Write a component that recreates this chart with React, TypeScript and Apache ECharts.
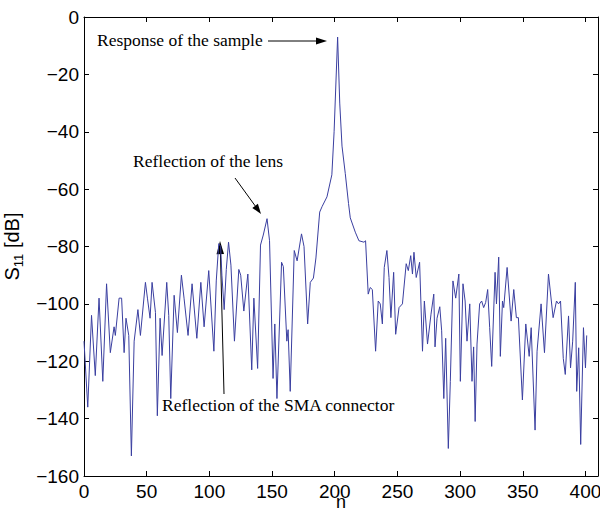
import React, { useEffect, useRef } from "react";
import * as echarts from "echarts";

// S11 trace: [n, dB]
const s11Trace: [number, number][] = [
  [0, -113], [3, -136], [6, -104], [9, -125], [12, -98], [15, -127], [18, -93], [21, -117], [24, -108], [25, -111],
  [28, -98], [30, -98], [32, -117], [33.5, -105], [35.7, -111], [37.8, -153], [40, -113], [43, -102], [45, -111], [49, -92.5],
  [50.6, -98], [52.7, -105], [54.3, -92.5], [57, -103], [58.5, -139], [60.7, -105], [62.3, -118], [66, -92.5], [67.6, -104], [69.2, -133],
  [71.9, -97], [74.5, -110], [77.7, -90], [79.8, -98], [83, -111], [86.2, -93], [90, -112], [93.2, -92.5], [95.8, -108], [99.5, -88.4],
  [103.6, -116.5], [105.5, -92], [107.5, -79], [109, -80], [110, -90], [111.8, -102], [113.5, -88], [115.3, -78.5], [117.2, -86.5], [120, -113],
  [123.5, -88], [125, -90], [127.5, -102.5], [130.7, -89.6], [133.8, -123], [135.5, -98], [138.5, -122.5], [140.8, -79.5], [143, -76], [146, -70.3],
  [148, -78], [150.8, -126], [152.2, -107], [153.9, -133], [157.6, -85.5], [159, -87], [161.8, -113], [162.8, -109], [164.5, -130.5], [167.7, -81.4],
  [170, -85], [173.5, -75.6], [175.5, -80], [178.4, -107], [180.5, -92.5], [183, -91], [185, -84], [188, -68], [190, -66], [193.8, -62.7],
  [197.7, -55], [199.5, -40], [202.3, -7], [204, -30], [205.8, -45], [208.4, -54.5], [211, -65], [212.4, -70], [216.4, -75], [219.3, -78],
  [223.3, -78.5], [224.6, -78], [226.7, -96.6], [228.3, -94.3], [230, -95], [232.6, -116.5], [234.7, -99], [236.3, -100], [238, -107], [239.5, -87.3],
  [241.6, -81.4], [243.3, -90.8], [244.8, -104.8], [247, -89], [248.6, -110.6], [251.3, -101.3], [254, -100], [257, -86], [258.7, -88.4], [260.6, -83.2],
  [262, -89.6], [263.2, -82], [265, -90.8], [267.7, -85.5], [270, -116.5], [271.5, -99], [274, -114], [276.8, -103.6], [279, -96.6], [280, -115],
  [281.6, -105], [283.8, -101], [285.3, -109.4], [287, -133], [288.5, -112], [290.6, -150.4], [292.2, -127], [294.3, -92], [296.5, -98], [299, -89.6],
  [300.2, -127], [302.3, -93], [304, -99], [305.5, -113], [307.7, -100], [309.5, -127], [310.8, -115], [312, -141], [313.5, -114], [315.6, -100],
  [317.2, -99], [318.8, -101.3], [320.4, -99.5], [322, -95], [323.6, -108.3], [325.2, -121.8], [327.9, -89], [329, -100], [330.8, -83.7], [332.1, -118.3],
  [333.8, -99], [334.8, -101.3], [337.5, -87.3], [340.7, -106], [342.8, -95], [344.9, -104.8], [346.5, -104.8], [349.7, -133.5], [352.4, -107], [355.1, -118.3],
  [356.7, -108.3], [359.8, -144], [361.4, -116.5], [364.6, -100], [367.3, -117], [370.5, -89.6], [374.2, -104.8], [376.9, -99], [378.5, -100], [380.1, -99],
  [382.3, -119], [383.9, -124.6], [386.5, -104.2], [388.1, -122.3], [389.8, -113], [391.9, -92.5], [393, -130.5], [394.6, -115.3], [396.2, -149], [398.4, -108.3],
  [400, -122.3], [401, -111],
];

const xRange = [0, 410];
const xStep = 50;
const yRange = [-160, 0];
const yStep = 20;

const annotations = [
  "Response of the sample",
  "Reflection of the lens",
  "Reflection of the SMA connector",
];

const SANS = "'Liberation Sans', Arial, sans-serif";
const SERIF = "'Liberation Serif', 'Times New Roman', serif";
const LINE = "#3a3fa0";

function fmtY(v: number) {
  return String(v).replace("-", "\u2212");
}

export default function App() {
  const ref = useRef<HTMLDivElement>(null);
  useEffect(() => {
    if (!ref.current) return;
    const chart = echarts.init(ref.current, undefined, { renderer: "svg" });
    const axisCommon = {
      axisLine: { show: true, onZero: false, lineStyle: { color: "#000", width: 1 } },
      axisTick: { show: true, inside: true, length: 5, lineStyle: { color: "#000" } },
      splitLine: { show: false },
    };
    const arrowStyle = { stroke: "#000", lineWidth: 1 };
    const headStyle = { fill: "#000" };
    chart.setOption({
      animation: false,
      backgroundColor: "#fff",
      grid: { left: 84, right: 2, top: 17, bottom: 34, containLabel: false, outerBoundsMode: "none" },
      xAxis: [
        {
          type: "value",
          min: xRange[0],
          max: xRange[1],
          interval: xStep,
          position: "bottom",
          ...axisCommon,
          axisLabel: {
            show: true,
            margin: 6,
            color: "#000",
            fontFamily: SANS,
            fontSize: 19,
            showMaxLabel: false,
            formatter: (v: number) => (v % xStep === 0 ? String(v) : ""),
          },
          name: "n",
          nameLocation: "middle",
          nameGap: 17,
          nameMoveOverlap: false,
          nameTextStyle: { color: "#000", fontFamily: SANS, fontSize: 18, lineHeight: 18 },
        },
        {
          type: "value",
          min: xRange[0],
          max: xRange[1],
          interval: xStep,
          position: "top",
          ...axisCommon,
          axisLabel: { show: false },
        },
      ],
      yAxis: [
        {
          type: "value",
          min: yRange[0],
          max: yRange[1],
          interval: yStep,
          position: "left",
          ...axisCommon,
          axisLabel: {
            show: true,
            margin: 5,
            color: "#000",
            fontFamily: SANS,
            fontSize: 19,
            formatter: (v: number) => fmtY(v),
          },
          name: "{a|S}{b|11}{a| [dB]}",
          nameLocation: "middle",
          nameGap: 49,
          nameTextStyle: {
            color: "#000",
            fontFamily: SANS,
            fontSize: 20,
            rich: {
              a: { fontFamily: SANS, fontSize: 20, color: "#000", lineHeight: 26, verticalAlign: "middle" },
              b: { fontFamily: SANS, fontSize: 13, color: "#000", lineHeight: 13, verticalAlign: "bottom" },
            },
          },
        },
        {
          type: "value",
          min: yRange[0],
          max: yRange[1],
          interval: yStep,
          position: "right",
          ...axisCommon,
          axisLabel: { show: false },
        },
      ],
      series: [
        {
          type: "line",
          data: s11Trace,
          xAxisIndex: 0,
          yAxisIndex: 0,
          showSymbol: false,
          symbol: "none",
          lineStyle: { color: LINE, width: 1 },
          silent: true,
        },
      ],
      graphic: [
        {
          type: "text",
          left: 97,
          top: 31,
          style: { text: annotations[0], font: `17.5px ${SERIF}`, fill: "#000" },
        },
        { type: "line", shape: { x1: 268, y1: 41, x2: 318, y2: 41 }, style: arrowStyle },
        { type: "polygon", shape: { points: [[327, 41], [316, 37.5], [316, 44.5]] }, style: headStyle },
        {
          type: "text",
          left: 133,
          top: 152,
          style: { text: annotations[1], font: `17.5px ${SERIF}`, fill: "#000" },
        },
        { type: "line", shape: { x1: 235, y1: 178, x2: 256, y2: 207 }, style: arrowStyle },
        { type: "polygon", shape: { points: [[261, 214], [252.3, 207.9], [257.9, 203.8]] }, style: headStyle },
        {
          type: "text",
          left: 162,
          top: 396,
          style: { text: annotations[2], font: `17.5px ${SERIF}`, fill: "#000" },
        },
        { type: "line", shape: { x1: 224, y1: 394, x2: 220.4, y2: 252 }, style: arrowStyle },
        { type: "polygon", shape: { points: [[220, 241], [224, 254], [216.5, 254.2]] }, style: headStyle },
      ],
    });
    return () => chart.dispose();
  }, []);
  return (
    <div
      ref={ref}
      style={{ position: "fixed", left: 0, top: 0, width: 600, height: 510, background: "#fff" }}
    />
  );
}
